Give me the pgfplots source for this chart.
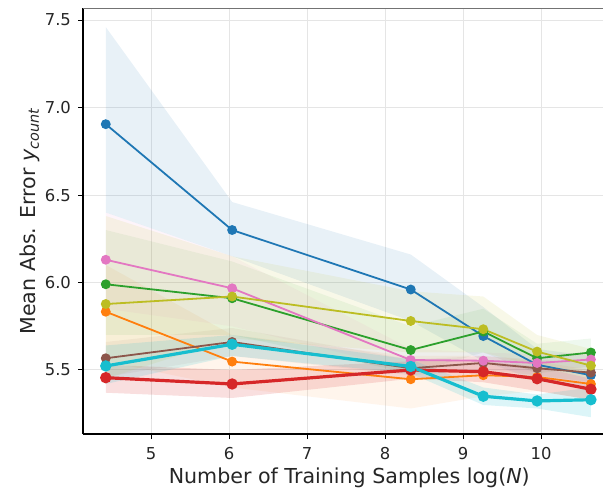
\documentclass[border=0pt]{standalone}
\usepackage{fontspec}
\setmainfont{DejaVu Sans}
\usepackage{pgfplots}
\pgfplotsset{compat=1.18}
\definecolor{tblue}{HTML}{1F77B4}
\definecolor{torange}{HTML}{FF7F0E}
\definecolor{tgreen}{HTML}{2CA02C}
\definecolor{tred}{HTML}{D62728}
\definecolor{tbrown}{HTML}{8C564B}
\definecolor{tpink}{HTML}{E377C2}
\definecolor{tolive}{HTML}{BCBD22}
\definecolor{tcyan}{HTML}{17BECF}
\begin{document}
\begin{tikzpicture}
\useasboundingbox (-41.5pt,-30.5pt) rectangle (260pt,217pt);
\begin{axis}[
  scale only axis, width=260pt, height=213pt,
  xmin=4.128, xmax=10.795, ymin=5.134, ymax=7.569,
  xtick={5,6,7,8,9,10}, ytick={5.5,6.0,6.5,7.0,7.5},
  yticklabel style={/pgf/number format/.cd, fixed, fixed zerofill, precision=1},
  /pgf/number format/assume math mode=true,
  grid=major, grid style={black!10, line width=0.5pt},
  axis x line*=bottom, axis y line*=left,
  tick align=outside, major tick length=2.5pt,
  tick style={black, line width=0.5pt},
  axis line style={black, line width=0.7pt},
  ticklabel style={font=\fontsize{8.2}{9}\selectfont, text=black!85},
  xticklabel style={yshift=-0.5pt},
  label style={font=\fontsize{10.3}{12}\selectfont, text=black!85},
  xlabel={Number of Training Samples log(\textit{N})},
  ylabel={Mean Abs. Error \textit{y}\textsubscript{\textit{count}}},
  xlabel style={at={(axis description cs:0.512,0)}, anchor=center, yshift=-22pt},
  ylabel style={at={(axis description cs:0,0.5)}, anchor=center, yshift=26.5pt},
  clip=true,
]
% bands
\addplot[fill=tblue, fill opacity=0.10, draw=none] coordinates {(4.42,7.46) (6.04,6.46) (8.33,6.16) (9.26,5.86) (9.95,5.62) (10.64,5.58) (10.64,5.38) (9.95,5.44) (9.26,5.55) (8.33,5.78) (6.04,6.15) (4.42,6.40)} --cycle;
\addplot[fill=torange, fill opacity=0.08, draw=none] coordinates {(4.42,6.10) (6.04,5.70) (8.33,5.58) (9.26,5.58) (9.95,5.55) (10.64,5.50) (10.64,5.33) (9.95,5.38) (9.26,5.35) (8.33,5.28) (6.04,5.40) (4.42,5.55)} --cycle;
\addplot[fill=tgreen, fill opacity=0.08, draw=none] coordinates {(4.42,6.30) (6.04,6.12) (8.33,5.75) (9.26,5.85) (9.95,5.65) (10.64,5.68) (10.64,5.52) (9.95,5.48) (9.26,5.60) (8.33,5.48) (6.04,5.70) (4.42,5.70)} --cycle;
\addplot[fill=tred, fill opacity=0.15, draw=none] coordinates {(4.42,5.53) (6.04,5.50) (8.33,5.55) (9.26,5.55) (9.95,5.52) (10.64,5.45) (10.64,5.33) (9.95,5.38) (9.26,5.43) (8.33,5.45) (6.04,5.34) (4.42,5.37)} --cycle;
\addplot[fill=tbrown, fill opacity=0.08, draw=none] coordinates {(4.42,5.66) (6.04,5.74) (8.33,5.56) (9.26,5.58) (9.95,5.56) (10.64,5.54) (10.64,5.43) (9.95,5.47) (9.26,5.50) (8.33,5.47) (6.04,5.58) (4.42,5.46)} --cycle;
\addplot[fill=tpink, fill opacity=0.08, draw=none] coordinates {(4.42,6.40) (6.04,6.15) (8.33,5.62) (9.26,5.60) (9.95,5.59) (10.64,5.60) (10.64,5.52) (9.95,5.49) (9.26,5.50) (8.33,5.50) (6.04,5.75) (4.42,5.85)} --cycle;
\addplot[fill=tolive, fill opacity=0.10, draw=none] coordinates {(4.42,6.38) (6.04,6.15) (8.33,5.95) (9.26,5.92) (9.95,5.70) (10.64,5.62) (10.64,5.45) (9.95,5.52) (9.26,5.60) (8.33,5.60) (6.04,5.68) (4.42,5.45)} --cycle;
\addplot[fill=tcyan, fill opacity=0.15, draw=none] coordinates {(4.42,5.64) (6.04,5.70) (8.33,5.56) (9.26,5.40) (9.95,5.36) (10.64,5.40) (10.64,5.23) (9.95,5.28) (9.26,5.30) (8.33,5.48) (6.04,5.58) (4.42,5.42)} --cycle;
% lines
\addplot[color=tblue, line width=0.9pt, mark=*, mark size=2pt] coordinates {(4.42,6.905) (6.04,6.30) (8.33,5.96) (9.26,5.694) (9.95,5.53) (10.64,5.47)};
\addplot[color=torange, line width=0.9pt, mark=*, mark size=2pt] coordinates {(4.42,5.833) (6.04,5.548) (8.33,5.447) (9.26,5.47) (9.95,5.46) (10.64,5.42)};
\addplot[color=tgreen, line width=0.9pt, mark=*, mark size=2pt] coordinates {(4.42,5.99) (6.04,5.91) (8.33,5.614) (9.26,5.72) (9.95,5.567) (10.64,5.60)};
\addplot[color=tbrown, line width=0.9pt, mark=*, mark size=2pt] coordinates {(4.42,5.567) (6.04,5.66) (8.33,5.51) (9.26,5.54) (9.95,5.51) (10.64,5.485)};
\addplot[color=tpink, line width=0.9pt, mark=*, mark size=2pt] coordinates {(4.42,6.13) (6.04,5.967) (8.33,5.557) (9.26,5.553) (9.95,5.54) (10.64,5.56)};
\addplot[color=tolive, line width=0.9pt, mark=*, mark size=2pt] coordinates {(4.42,5.877) (6.04,5.92) (8.33,5.78) (9.26,5.733) (9.95,5.605) (10.64,5.525)};
\addplot[color=tred, line width=1.6pt, mark=*, mark size=2pt] coordinates {(4.42,5.456) (6.04,5.42) (8.33,5.50) (9.26,5.49) (9.95,5.45) (10.64,5.39)};
\addplot[color=tcyan, line width=1.6pt, mark=*, mark size=2pt] coordinates {(4.42,5.523) (6.04,5.647) (8.33,5.52) (9.26,5.35) (9.95,5.323) (10.64,5.33)};
\draw[black!55, line width=0.9pt] (rel axis cs:0,1) -- (rel axis cs:1,1);
\end{axis}
\end{tikzpicture}
\end{document}
